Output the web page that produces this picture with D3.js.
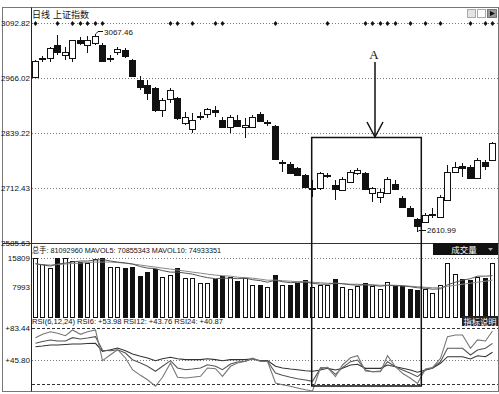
<!DOCTYPE html>
<html>
<head>
<meta charset="utf-8">
<script src="https://cdn.jsdelivr.net/npm/d3@7"></script>
<style>
  html, body { margin: 0; padding: 0; background: #fff; }
  svg { display: block; font-family: "Liberation Sans", Arial, "Noto Sans CJK SC", sans-serif; }
</style>
</head>
<body>
<div id="chart"></div>
<script>
// 日线 OHLC (上证指数)
const opens  = [2968.3,3009.1,3011.4,3041.4,3018.4,3011.4,3052.9,3041.4,3046.0,3041.4,3010.3,3025.3,3029.9,3006.8,2960.7,2949.2,2942.3,2891.6,2916.9,2919.2,2861.6,2847.8,2875.4,2882.3,2891.6,2868.5,2852.4,2868.5,2852.4,2852.4,2882.3,2862.7,2854.7,2770.5,2767.1,2757.8,2741.7,2710.6,2711.7,2739.4,2718.6,2707.1,2725.6,2746.3,2746.3,2700.2,2691.0,2700.2,2720.9,2688.7,2665.6,2640.3,2633.3,2650.6,2644.9,2684.1,2748.6,2762.4,2760.1,2734.8,2771.7,2776.3];
const highs  = [3006.8,3016.0,3036.8,3064.5,3036.8,3053.5,3059.9,3062.0,3067.46,3046.0,3018.4,3036.8,3034.5,3009.1,2970.0,2960.7,2944.6,2919.2,2942.3,2921.5,2886.9,2884.6,2886.9,2896.2,2900.8,2875.4,2880.0,2880.0,2873.1,2880.0,2886.9,2868.5,2857.0,2776.3,2771.7,2760.1,2744.0,2730.2,2748.6,2746.3,2730.2,2737.1,2753.2,2757.8,2748.6,2714.0,2709.4,2737.1,2730.2,2693.3,2670.2,2642.6,2654.1,2665.6,2695.6,2764.8,2771.7,2769.4,2764.8,2780.9,2776.3,2817.8];
const lows   = [2967.6,3001.9,3002.2,3018.4,3006.8,3001.9,3041.4,3023.0,3041.4,3002.2,3001.9,3018.4,3011.4,2967.6,2937.7,2914.6,2886.9,2875.4,2907.7,2868.5,2857.0,2838.5,2868.5,2873.1,2875.4,2850.1,2838.5,2852.4,2827.0,2850.1,2863.9,2854.7,2776.3,2748.6,2744.0,2739.4,2711.7,2691.0,2707.1,2734.8,2684.1,2704.8,2723.3,2741.7,2707.1,2679.5,2677.2,2697.9,2707.1,2666.8,2644.9,2610.99,2631.0,2642.6,2642.6,2681.8,2746.3,2737.1,2732.5,2732.5,2753.2,2774.0];
const closes = [3004.5,3011.4,3034.5,3025.3,3025.3,3052.9,3046.0,3052.9,3062.2,3004.5,3011.4,3032.2,3016.0,2970.0,2944.6,2930.8,2891.6,2914.6,2937.7,2873.1,2875.4,2868.5,2877.7,2893.9,2888.1,2852.4,2875.4,2854.7,2857.0,2875.4,2866.2,2863.9,2778.6,2771.7,2746.3,2741.7,2714.0,2711.7,2746.3,2742.8,2709.4,2732.5,2748.6,2753.2,2709.4,2711.7,2702.5,2732.5,2709.4,2667.9,2647.2,2624.1,2649.5,2651.8,2691.0,2748.6,2760.1,2757.8,2734.8,2776.3,2762.4,2815.5];

// 成交量 and its averages
const volumes = [15700,13990,12910,15750,15650,14870,14680,14250,15400,15809,13340,13340,12910,13340,10930,12000,12640,10660,11120,12910,10230,10390,9050,9050,9970,10930,10660,9510,10390,8630,8630,7980,11120,8630,8440,9050,9780,7980,8440,8630,10050,7980,7550,8250,9160,8250,7370,9320,8250,8250,7370,7100,7550,6480,8440,14250,11300,9970,9780,10660,10390,14250];
const mavol5  = [14200,13800,13530,14070,14330,14600,14870,14870,15140,15270,14870,14600,14330,14070,13400,12990,12860,12320,11920,11920,11650,11390,10850,10450,10180,10310,10310,10180,10310,9910,9640,9240,9780,9380,9110,9240,9240,8970,8710,8710,8970,8840,8570,8440,8570,8440,8170,8440,8300,8300,8040,7770,7640,7370,7500,8570,9240,9780,10180,10850,10850,10980];
const mavol10 = [14070,13930,13800,13930,14070,14200,14330,14470,14600,14600,14600,14470,14330,14070,13800,13530,13260,12990,12730,12460,12190,11920,11650,11390,11120,10980,10850,10580,10450,10310,10050,9780,9780,9640,9510,9380,9380,9240,9110,8970,8970,8840,8710,8710,8570,8570,8440,8440,8440,8300,8170,8040,7900,7770,7770,8170,8440,8710,8970,9240,9510,9780];

// RSI(6,12,24)
const rsi6  = [72.3,76.3,79.4,77.5,74.7,81.4,76.3,79.4,81.4,45.0,52.1,58.0,48.2,34.3,27.6,22.4,14.6,25.3,42.2,25.3,24.4,25.3,26.4,36.3,35.5,26.4,38.3,42.2,44.3,48.2,44.3,44.3,18.5,16.5,14.6,12.6,10.5,9.0,36.7,36.7,26.0,39.9,48.5,50.9,32.7,31.9,31.9,50.9,37.8,30.0,24.1,18.1,35.1,36.7,47.8,73.5,75.5,75.5,59.7,69.6,68.4,80.2];
const rsi12 = [65.6,67.8,69.5,68.4,68.4,72.3,70.7,71.9,73.5,57.4,56.8,58.0,54.1,46.2,42.2,38.3,32.4,38.3,45.0,36.3,34.3,35.1,36.3,40.2,38.3,34.3,41.1,43.4,44.3,47.3,44.3,44.3,30.4,27.6,25.3,23.6,22.1,20.5,35.9,37.1,28.8,36.7,43.8,45.8,33.9,31.9,32.7,43.8,37.8,33.9,30.0,26.0,33.9,36.7,43.8,59.7,59.7,59.7,51.7,57.7,59.7,65.6];
const rsi24 = [61.6,62.4,63.6,63.6,64.2,64.8,64.8,65.4,65.6,56.1,58.0,60.1,56.8,52.9,50.2,48.2,45.0,47.3,49.0,47.3,46.2,46.2,46.2,47.3,46.2,45.0,46.2,46.2,46.2,47.3,45.0,45.0,38.3,36.3,35.1,34.3,33.1,32.4,33.9,35.9,33.9,35.9,39.9,40.7,35.9,35.9,35.9,39.9,37.8,35.9,33.9,31.2,33.9,35.9,41.9,49.7,49.7,49.7,47.0,50.9,49.7,54.9];

// days carrying the ◆ marker on the top line
const markDays = [0,3,5,6,7,8,9,18,19,21,24,25,32,39,44,45,46,47,48,50,52,54,58,60,61];

const priceTicks = [3092.82, 2966.02, 2839.22, 2712.43, 2585.63];
const volumeTicks = [15809, 7993];
const rsiTicks = [83.44, 45.80];
const rsiDashed = [83.44, 17.3];

const highIndex = 8;   // 3067.46
const lowIndex = 51;   // 2610.99
const boxFrom = 37, boxTo = 51;

const width = 499;
const height = 394;

const svg = d3.select('#chart')
    .append('svg')
    .attr('width', width)
    .attr('height', height);

const days = d3.range(closes.length);
const x = d3.scaleBand().domain(days).range([32, 497]);
const left = i => Math.floor(x(i));
const mid = i => left(i) + 3;

const yP = d3.scaleLinear().domain([2585.63, 3092.82]).range([242.7, 22.7]);
const yV = d3.scaleLinear().domain([0, 15809]).range([317, 257.5]);
const yR = d3.scaleLinear().domain([45.80, 83.44]).range([360, 328.3]);
const px = v => Math.round(v) + 0.5;

// frame and panel separators
svg.append('rect')
    .attr('x', 2.5).attr('y', 7.5).attr('width', 496).attr('height', 384)
    .attr('fill', 'none').attr('stroke', '#777');
svg.append('line')
    .attr('x1', 31.5).attr('x2', 31.5).attr('y1', 7.5).attr('y2', 391.5)
    .attr('stroke', '#222');
svg.append('line')
    .attr('x1', 2.5).attr('x2', 498.5).attr('y1', 243.5).attr('y2', 243.5)
    .attr('stroke', '#333');

// dotted guide lines
const dotted = (y, color, dash) => svg.append('line')
    .attr('x1', 32).attr('x2', 498).attr('y1', px(y)).attr('y2', px(y))
    .attr('stroke', color).attr('stroke-dasharray', dash)
    .attr('shape-rendering', 'crispEdges');

priceTicks.slice(0, 4).forEach(t => dotted(yP(t), '#777', '1,2'));
dotted(yV(volumeTicks[0]), '#777', '1,2');
dotted(yR(45.80), '#777', '1,2');
rsiDashed.forEach(t => dotted(yR(t), '#333', '3,2'));

// axis labels
const labelAxis = (scale, ticks, fmt) => {
    const g = svg.append('g')
        .attr('transform', 'translate(30,0)')
        .call(d3.axisLeft(scale).tickValues(ticks).tickSize(0).tickPadding(0).tickFormat(fmt));
    g.select('.domain').remove();
    g.selectAll('text')
        .attr('font-family', '"Liberation Sans", Arial, sans-serif')
        .attr('font-size', 8)
        .attr('fill', '#111');
    return g;
};
labelAxis(yP, priceTicks, d3.format('.2f'));
labelAxis(yV, volumeTicks, d3.format('d'));
labelAxis(yR, rsiTicks, d => '+' + d3.format('.2f')(d));

// title
svg.append('text').attr('x', 32).attr('y', 17.5)
    .attr('font-size', 9).attr('fill', '#111').text('日线');
svg.append('text').attr('x', 53).attr('y', 17.5)
    .attr('font-size', 9).attr('fill', '#111').text('上证指数');

// top-right buttons
svg.append('rect').attr('x', 467.5).attr('y', 9.5).attr('width', 8).attr('height', 8)
    .attr('fill', '#e4e4e4').attr('stroke', '#aaa');
svg.append('rect').attr('x', 477.5).attr('y', 9.5).attr('width', 8).attr('height', 8)
    .attr('fill', '#fff').attr('stroke', '#aaa');
svg.append('rect').attr('x', 487.5).attr('y', 9.5).attr('width', 9).attr('height', 8)
    .attr('fill', '#999').attr('stroke', '#777');
svg.append('path').attr('d', 'M490,11 L495,13.5 L490,16 Z').attr('fill', '#111');

// signal markers
svg.append('g')
    .selectAll('path')
    .data(markDays)
    .enter()
    .append('path')
    .attr('d', i => {
        const cx = mid(i) + 0.5, cy = 23.5;
        return `M${cx},${cy - 2.6} L${cx + 2},${cy} L${cx},${cy + 2.6} L${cx - 2},${cy} Z`;
    })
    .attr('fill', '#111');

// candles
const up = i => closes[i] >= opens[i];
const candles = svg.append('g').attr('class', 'candles');

candles.selectAll('line')
    .data(days)
    .enter()
    .append('line')
    .attr('x1', i => mid(i) + 0.5)
    .attr('x2', i => mid(i) + 0.5)
    .attr('y1', i => yP(highs[i]))
    .attr('y2', i => yP(lows[i]))
    .attr('stroke', '#111')
    .attr('shape-rendering', 'crispEdges');

candles.selectAll('rect')
    .data(days)
    .enter()
    .append('rect')
    .attr('x', i => left(i) + 0.5)
    .attr('width', 6)
    .attr('y', i => px(yP(Math.max(opens[i], closes[i]))))
    .attr('height', i => Math.max(1, Math.round(Math.abs(yP(opens[i]) - yP(closes[i])))))
    .attr('fill', i => up(i) ? '#fff' : '#111')
    .attr('stroke', '#111')
    .attr('shape-rendering', 'crispEdges');

// high / low notes
svg.append('path')
    .attr('d', `M${mid(highIndex) + 1},${yP(highs[highIndex])} L${mid(highIndex) + 3},31.5 L103,31.5`)
    .attr('fill', 'none').attr('stroke', '#111');
svg.append('text').attr('x', 104).attr('y', 35)
    .attr('font-size', 8).attr('fill', '#111').text(d3.format('.2f')(highs[highIndex]));

svg.append('path')
    .attr('d', `M${mid(lowIndex) + 1},${yP(lows[lowIndex])} L${mid(lowIndex) + 2},230.5 L426,230.5`)
    .attr('fill', 'none').attr('stroke', '#111');
svg.append('text').attr('x', 427).attr('y', 233)
    .attr('font-size', 8).attr('fill', '#111').text(d3.format('.2f')(lows[lowIndex]));

// volume panel header
svg.append('text').attr('x', 32).attr('y', 253)
    .attr('font-size', 8).attr('fill', '#111')
    .attr('textLength', 189).attr('lengthAdjust', 'spacingAndGlyphs')
    .text('总手: 81092960 MAVOL5: 70855343 MAVOL10: 74933351');

// volume bars
svg.append('g')
    .selectAll('rect')
    .data(days)
    .enter()
    .append('rect')
    .attr('x', i => left(i) + 1.5)
    .attr('width', 4)
    .attr('y', i => px(yV(volumes[i])))
    .attr('height', i => Math.round(yV(0) - yV(volumes[i])))
    .attr('fill', i => up(i) ? '#fff' : '#111')
    .attr('stroke', '#111')
    .attr('shape-rendering', 'crispEdges');

const volLine = series => d3.line().x(i => mid(i) + 0.5).y(i => yV(series[i]));
svg.append('path').attr('d', volLine(mavol10)(days))
    .attr('fill', 'none').attr('stroke', '#888').attr('stroke-width', 1);
svg.append('path').attr('d', volLine(mavol5)(days))
    .attr('fill', 'none').attr('stroke', '#555').attr('stroke-width', 1);

// 成交量 tag
svg.append('rect').attr('x', 433).attr('y', 243).attr('width', 65).attr('height', 12)
    .attr('fill', '#111');
svg.append('text').attr('x', 464).attr('y', 252.5).attr('text-anchor', 'middle')
    .attr('font-size', 8.5).attr('fill', '#fff').text('成交量');
svg.append('path').attr('d', 'M488,248 L493,248 L490.5,251 Z').attr('fill', '#aaa');

// RSI panel header, drawn over the bar feet
svg.append('rect').attr('x', 32).attr('y', 318).attr('width', 200).attr('height', 6)
    .attr('fill', '#fff');
svg.append('text').attr('x', 32).attr('y', 323.5)
    .attr('font-size', 8).attr('fill', '#111')
    .attr('textLength', 191).attr('lengthAdjust', 'spacingAndGlyphs')
    .text('RSI(6,12,24) RSI6: +53.98 RSI12: +43.76 RSI24: +40.87');

// 指标说明 tag
svg.append('rect').attr('x', 462).attr('y', 316).attr('width', 36).attr('height', 10)
    .attr('fill', '#222');
svg.append('text').attr('x', 480).attr('y', 324.5).attr('text-anchor', 'middle')
    .attr('font-size', 8.3).attr('fill', '#fff').text('指标说明');

// RSI lines
const rsiLine = series => d3.line().x(i => mid(i) + 0.5).y(i => Math.min(391, yR(series[i])));
[[rsi24, '#333'], [rsi12, '#555'], [rsi6, '#777']].forEach(([series, color]) => {
    svg.append('path').attr('d', rsiLine(series)(days))
        .attr('fill', 'none').attr('stroke', color).attr('stroke-width', 1.1);
});

// marked area A
const boxLeft = x(boxFrom) + 2.2;
const boxRight = x(boxTo) + x.bandwidth() - 0.7;
svg.append('rect')
    .attr('x', boxLeft)
    .attr('y', 137.5)
    .attr('width', boxRight - boxLeft)
    .attr('height', 248.5)
    .attr('fill', 'none')
    .attr('stroke', '#111')
    .attr('stroke-width', 1.5);

const arrowX = 375;
svg.append('line').attr('x1', arrowX).attr('x2', arrowX).attr('y1', 62).attr('y2', 137)
    .attr('stroke', '#111').attr('stroke-width', 1.5);
svg.append('path').attr('d', `M${arrowX - 8},122 L${arrowX},137 L${arrowX + 8},122`)
    .attr('fill', 'none').attr('stroke', '#111').attr('stroke-width', 1.5);
svg.append('text').attr('x', arrowX - 1).attr('y', 59).attr('text-anchor', 'middle')
    .attr('font-family', '"Liberation Serif", "Times New Roman", serif')
    .attr('font-size', 13).attr('fill', '#111').text('A');
</script>
</body>
</html>
